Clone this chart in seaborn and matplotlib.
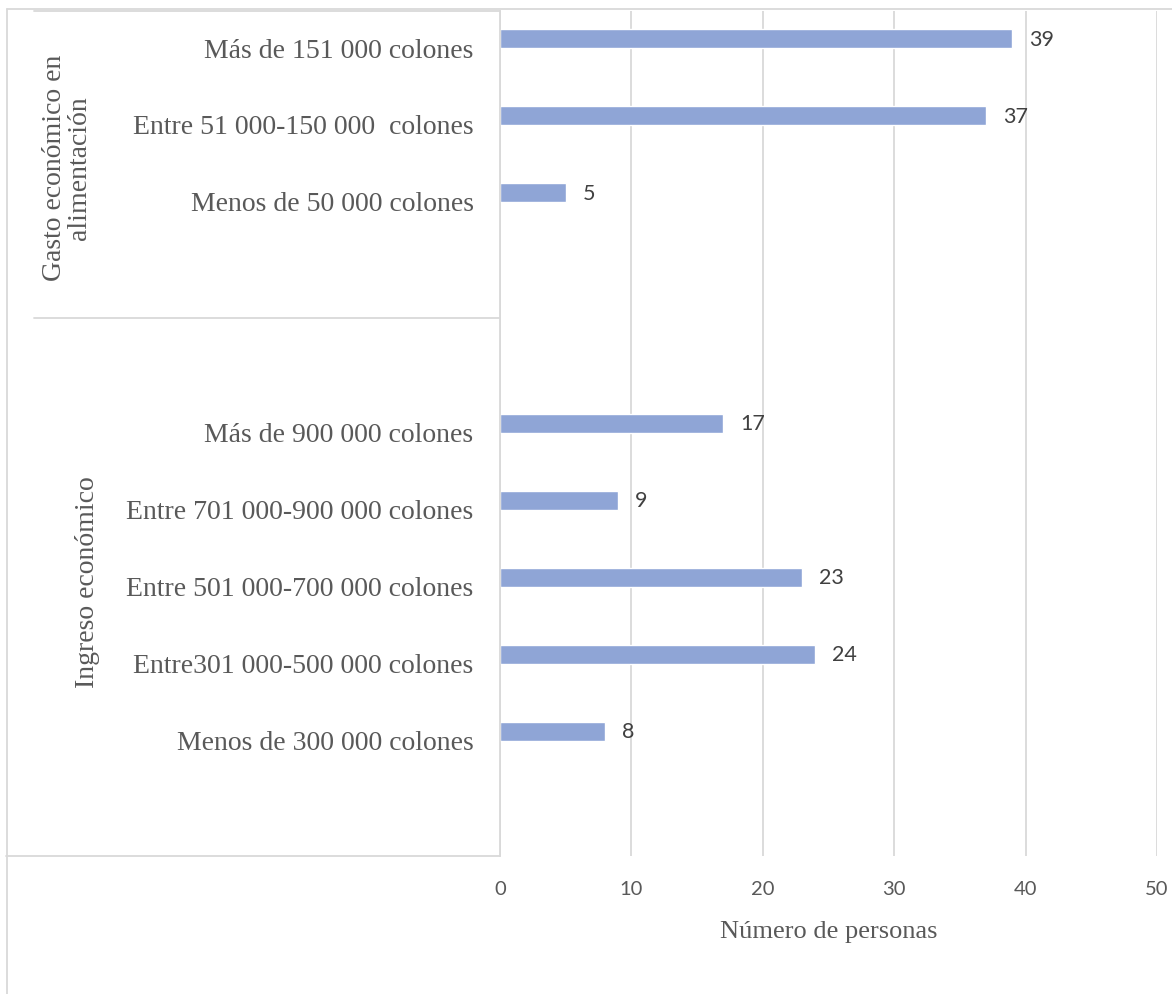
import matplotlib
matplotlib.use('Agg')
import matplotlib.pyplot as plt
import matplotlib.transforms as mtransforms
from matplotlib.lines import Line2D
import seaborn as sns
import pandas as pd

# -- data --
categories = [
    "Más de 151 000 colones",
    "Entre 51 000-150 000  colones",
    "Menos de 50 000 colones",
    "Más de 900 000 colones",
    "Entre 701 000-900 000 colones",
    "Entre 501 000-700 000 colones",
    "Entre301 000-500 000 colones",
    "Menos de 300 000 colones",
]
values = [39, 37, 5, 17, 9, 23, 24, 8]
groups = ["Gasto económico en\nalimentación", "Ingreso económico"]
# slot order (blank slots separate the two groups, as in the original)
order = categories[:3] + [" ", "  "] + categories[3:] + ["   "]
x_ticks = [0, 10, 20, 30, 40, 50]

df = pd.DataFrame({"cat": categories, "n": values})

sns.set_theme(style="white")
serif = ["Liberation Serif", "DejaVu Serif"]
sans = ["Lato", "DejaVu Sans"]

W, H = 1172, 995
fig = plt.figure(figsize=(W / 100, H / 100), dpi=100)

def fx(px):
    return px / W

def fy(py):
    return 1 - py / H

ax_left, ax_right, ax_top, ax_bot = 500, 1157, 12, 857
ax = fig.add_axes([fx(ax_left), fy(ax_bot), fx(ax_right - ax_left), (ax_bot - ax_top) / H])

sns.barplot(data=df, x="n", y="cat", order=order, orient="h", color="#8FA5D6",
            width=0.25, ax=ax, saturation=1)

ax.set_xlim(0, 50)
ax.set_ylim(10.62, -0.36)
ax.set_xticks(x_ticks)
ax.set_xticklabels([str(t) for t in x_ticks], family=sans, fontsize=14.5, color="#595959")
ax.tick_params(axis="x", length=0, pad=17)
ax.tick_params(axis="y", length=0, pad=19)
shift = mtransforms.ScaledTranslation(0, -6 / 72, fig.dpi_scale_trans)
for lab in ax.get_yticklabels():
    lab.set_fontfamily(serif)
    lab.set_fontsize(20)
    lab.set_color("#595959")
    lab.set_transform(lab.get_transform() + shift)
ax.set_ylabel("")
ax.set_xlabel("Número de personas", family=serif, fontsize=19, color="#595959", labelpad=17)
ax.grid(axis="x", color="#D9D9D9", linewidth=1.3)
ax.grid(axis="y", visible=False)
for s in ["top", "right", "bottom"]:
    ax.spines[s].set_visible(False)
ax.spines["left"].set_color("#D9D9D9")
ax.spines["left"].set_linewidth(1.3)

for c in ax.containers:
    ax.bar_label(c, padding=12, fontsize=15.5, color="#404040", family=sans)

# group box lines
line_kw = dict(color="#D9D9D9", linewidth=1.3, transform=fig.transFigure)
for py in [ax_top, 319, ax_bot]:
    x0 = 6 if py == ax_bot else 34
    fig.add_artist(Line2D([fx(x0), fx(ax_left)], [fy(py), fy(py)], **line_kw))

# outer border
fig.add_artist(Line2D([fx(7), fx(7)], [fy(10), 0], **line_kw))
fig.add_artist(Line2D([fx(7), 1], [fy(10), fy(10)], **line_kw))

# group labels
fig.text(fx(67), fy(168), groups[0], rotation=90, ha="center", va="center",
         family=serif, fontsize=20, color="#595959", linespacing=0.95)
fig.text(fx(88), fy(582), groups[1], rotation=90, ha="center", va="center",
         family=serif, fontsize=20, color="#595959")

fig.savefig("out.png", dpi=100)
